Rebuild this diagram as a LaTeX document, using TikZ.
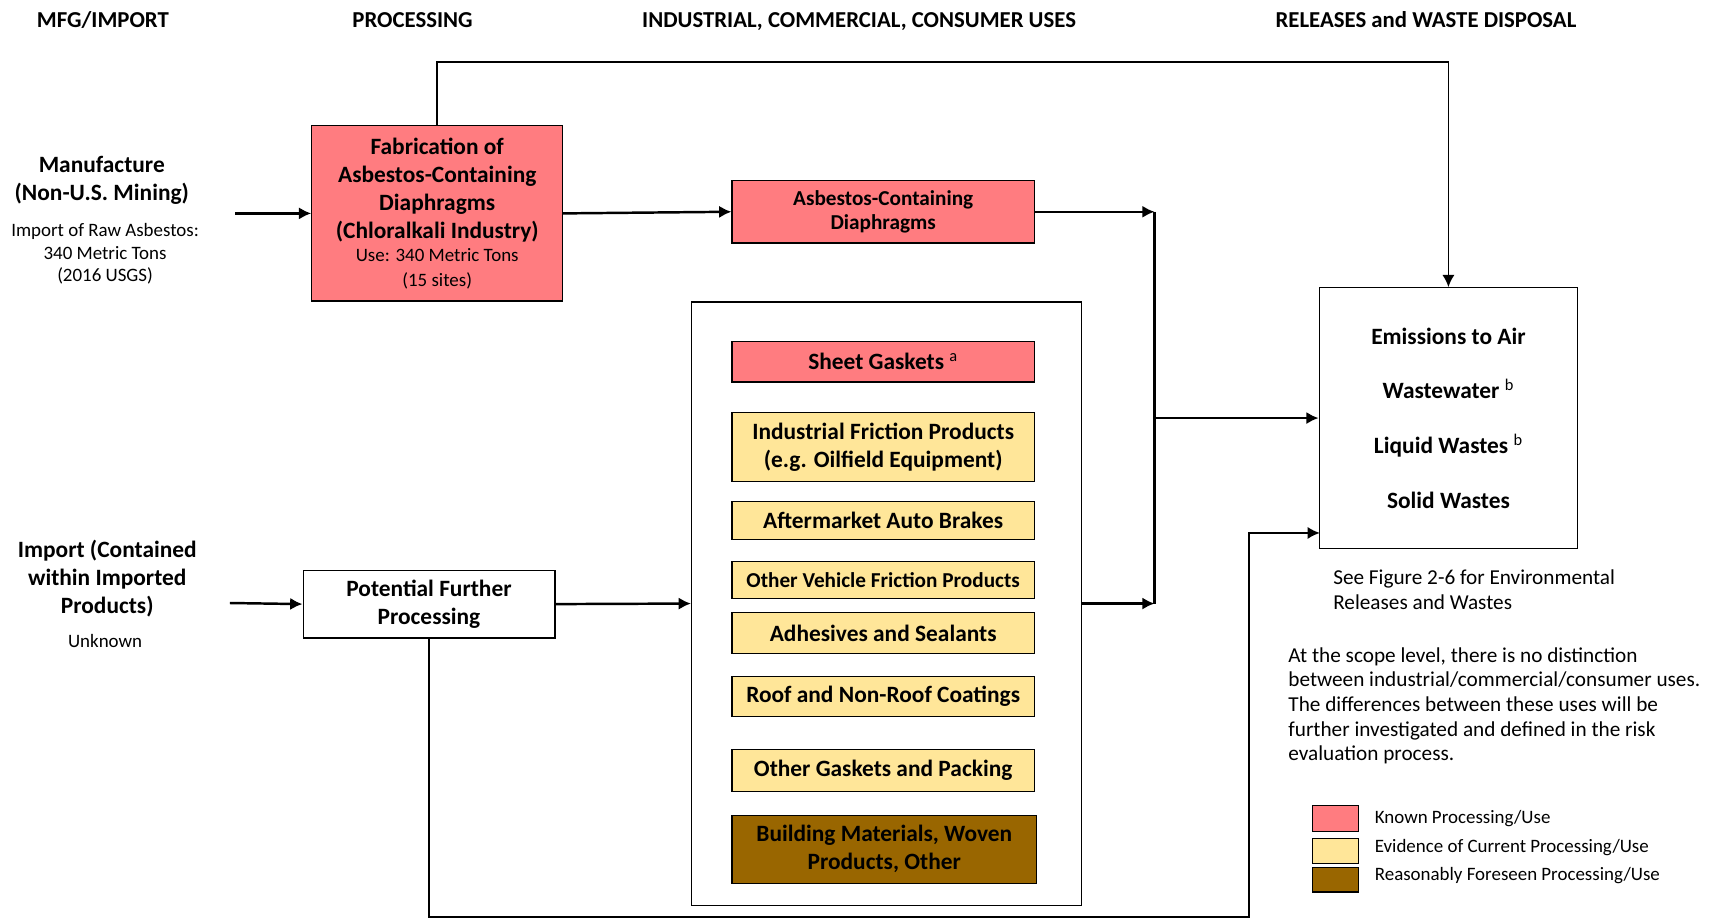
\documentclass[tikz,border=0pt]{standalone}
\usepackage{fontspec}
\setmainfont{Carlito}
\usetikzlibrary{arrows.meta}
\definecolor{known}{HTML}{FF7C80}
\definecolor{evid}{HTML}{FFE699}
\definecolor{fore}{HTML}{996600}
\newcommand{\hdfont}{\fontsize{14.8}{17}\selectfont\bfseries}
\newcommand{\bxfont}{\fontsize{15.2}{18.1}\selectfont\bfseries}
\newcommand{\mdfont}{\fontsize{13.8}{15.6}\selectfont\bfseries}
\newcommand{\smfont}{\fontsize{12.3}{14.5}\selectfont\mdseries}
\newcommand{\ntfont}{\fontsize{13.8}{16}\selectfont}
\tikzstyle{hdr} = [font=\hdfont, anchor=base]
\tikzstyle{lbl} = [align=center, font=\bxfont]
\tikzstyle{note} = [align=center, font=\smfont]
\tikzstyle{std} = [rectangle, draw=black, line width=0.8pt, align=center, font=\bxfont, minimum width=6.9cm]
\tikzstyle{kn} = [std, fill=known]
\tikzstyle{ev} = [std, fill=evid]
\tikzstyle{fs} = [std, fill=fore]
\tikzstyle{key} = [rectangle, draw=black, line width=0.8pt, minimum width=1.05cm]
\tikzstyle{arrow} = [line width=1.6pt, -{Latex[length=8pt,width=8pt]}]
\tikzstyle{line} = [line width=1.6pt]
\tikzstyle{link} = [line width=1.2pt, -{Latex[length=8pt,width=8pt]}]

\begin{document}
\begin{tikzpicture}[x=0.025cm, y=-0.025cm]
    \useasboundingbox (0,0) rectangle (1568,840);

    \node (hmfg)  [hdr] at (94,25) {MFG/IMPORT};
    \node (hproc) [hdr] at (377,25) {PROCESSING};
    \node (huse)  [hdr] at (785,25) {INDUSTRIAL, COMMERCIAL, CONSUMER USES};
    \node (hrel)  [hdr] at (1303,25) {RELEASES and WASTE DISPOSAL};

    \node (mfg)     [lbl] at (93,165) {Manufacture\\(Non-U.S. Mining)};
    \node (mfgnote) [note] at (96,232) {Import of Raw Asbestos:\\340 Metric Tons\\(2016 USGS)};
    \node (imp)     [lbl] at (98,529) {Import (Contained\\within Imported\\Products)};
    \node (impnote) [note] at (96,586) {Unknown};

    \node (fab) [kn, minimum width=5.725cm, minimum height=4cm] at (399.5,195)
        {Fabrication of\\Asbestos-Containing\\Diaphragms\\(Chloralkali Industry)\\[-3pt]{\smfont Use: 340 Metric Tons}\\[-2pt]{\smfont (15 sites)}};
    \node (acd) [kn, font=\mdfont, minimum height=1.425cm] at (807,193.5) {Asbestos-Containing\\Diaphragms};
    \node (pfp) [std, fill=white, minimum width=5.75cm, minimum height=1.55cm] at (392,552) {Potential Further\\Processing};

    \node (uses) [rectangle, draw=black, line width=0.8pt, minimum width=8.9cm, minimum height=13.775cm] at (810,551.5) {};
    \node (sheet)  [kn, minimum height=0.925cm] at (807,330.5) {Sheet Gaskets {\mdseries\textsuperscript{a}}};
    \node (indfr)  [ev, minimum height=1.575cm] at (807,408.5) {Industrial Friction Products\\(e.g. Oilfield Equipment)};
    \node (brakes) [ev, minimum height=0.875cm] at (807,475.5) {Aftermarket Auto Brakes};
    \node (vehfr)  [ev, font=\mdfont, minimum height=0.85cm] at (807,530) {Other Vehicle Friction Products};
    \node (adh)    [ev, minimum height=0.925cm] at (807,578.5) {Adhesives and Sealants};
    \node (roof)   [ev, minimum height=0.925cm] at (807,636.5) {Roof and Non-Roof Coatings};
    \node (gask)   [ev, minimum height=0.95cm] at (807,704) {Other Gaskets and Packing};
    \node (build)  [fs, minimum width=6.95cm, minimum height=1.55cm] at (808,776) {Building Materials, Woven\\Products, Other};

    \node (rel) [std, minimum width=5.9cm, minimum height=5.95cm] at (1323.5,382)
        {Emissions to Air\\[17.5pt]Wastewater {\mdseries\textsuperscript{b}}\\[17.5pt]Liquid Wastes {\mdseries\textsuperscript{b}}\\[17.5pt]Solid Wastes};

    \node (see)   [font=\ntfont, align=left, anchor=west, inner sep=0pt] at (1218,539) {See Figure 2-6 for Environmental\\Releases and Wastes};
    \node (scope) [font=\ntfont, align=left, anchor=west, inner sep=0pt] at (1177,645)
        {At the scope level, there is no distinction\\between industrial/commercial/consumer uses.\\The differences between these uses will be\\further investigated and defined in the risk\\evaluation process.};

    \node (kknown) [key, fill=known, minimum height=0.6cm] at (1220,748) {};
    \node (kevid)  [key, fill=evid, minimum height=0.575cm] at (1220,777.5) {};
    \node (kfore)  [key, fill=fore, minimum height=0.55cm] at (1220,804) {};
    \node (lknown) [font=\smfont, anchor=west, inner sep=0pt] at (1256,748) {Known Processing/Use};
    \node (levid)  [font=\smfont, anchor=west, inner sep=0pt] at (1256,774) {Evidence of Current Processing/Use};
    \node (lfore)  [font=\smfont, anchor=west, inner sep=0pt] at (1256,800) {Reasonably Foreseen Processing/Use};

    \coordinate (mfgin) at (215,195);
    \coordinate (impin) at (210,551);
    \coordinate (jtop) at (1055,193.5);
    \coordinate (jbot) at (1055,551.5);
    \coordinate (topr) at (1323.5,57);
    \coordinate (botr) at (1141,838);
    \coordinate (relin) at (1206,487);

    \draw [arrow] (mfgin) -- (fab.west);
    \draw [arrow] (fab.east) -- (acd.west);
    \draw [arrow] (acd.east) -- (jtop);
    \draw [line] (jtop) -- (jbot);
    \draw [arrow] (uses.east) -- (jbot);
    \draw [arrow] (jtop |- rel.west) -- (rel.west);
    \draw [arrow] (impin) -- (pfp.west);
    \draw [arrow] (pfp.east) -- (uses.west);
    \draw [link] (fab.north) |- (topr) -- (rel.north);
    \draw [link] (pfp.south) |- (botr) |- (relin);

  \end{tikzpicture}
\end{document}
